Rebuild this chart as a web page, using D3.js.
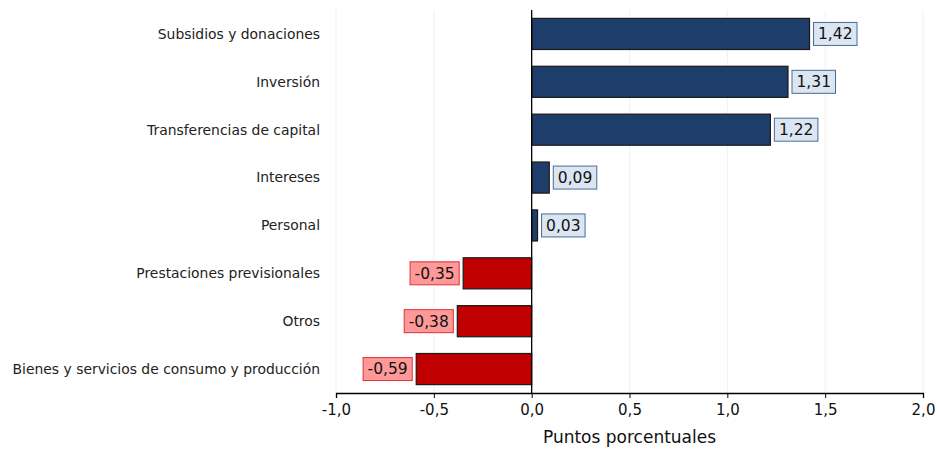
<!DOCTYPE html>
<html><head><meta charset="utf-8">
<script src="https://cdn.jsdelivr.net/npm/d3@7"></script>
<style>body{margin:0;background:#fff}svg{display:block}</style>
</head><body><svg id="c" width="937" height="449"></svg>
<script>
const categories = ["Subsidios y donaciones","Inversión","Transferencias de capital","Intereses ","Personal","Prestaciones previsionales","Otros","Bienes y servicios de consumo y producción"];
const values = [1.42,1.31,1.22,0.09,0.03,-0.35,-0.38,-0.59];
const xTicks = [-1.0,-0.5,0.0,0.5,1.0,1.5,2.0];
const xTitle = "Puntos porcentuales";

const svg = d3.select("#c");
const font = "'DejaVu Sans', sans-serif";
const x = d3.scaleLinear().domain([-1,2]).range([336,923]);
const y = d3.scaleBand().domain(categories).range([10,393]).paddingInner(0.35).paddingOuter(0.175);
const fmt = v => d3.format(".2f")(v).replace(".",",").replace("\u2212","-");
const fmt1 = v => d3.format(".1f")(v).replace(".",",").replace("\u2212","-");

// gridlines
svg.append("g").selectAll("line").data(xTicks.filter(t=>t!==0)).join("line")
  .attr("x1",d=>x(d)).attr("x2",d=>x(d)).attr("y1",10).attr("y2",393)
  .attr("stroke","#f1f1f1").attr("stroke-width",1);

// bars
svg.append("g").selectAll("rect").data(values).join("rect")
  .attr("x",d=>x(Math.min(0,d))).attr("width",d=>Math.abs(x(d)-x(0)))
  .attr("y",(d,i)=>y(categories[i])).attr("height",y.bandwidth())
  .attr("fill",d=>d>=0?"#1f3d6b":"#c00000")
  .attr("stroke","#1a1a1a").attr("stroke-width",1.2);

// zero line
svg.append("line").attr("x1",x(0)).attr("x2",x(0)).attr("y1",10).attr("y2",393)
  .attr("stroke","#000").attr("stroke-width",1.3);

// x axis
const ax = svg.append("g").attr("transform","translate(0,393)")
  .call(d3.axisBottom(x).tickValues(xTicks).tickFormat(fmt1).tickSize(5).tickPadding(6));
ax.select(".domain").attr("stroke","#000").attr("stroke-width",1.3);
ax.selectAll(".tick line").attr("stroke","#000");
ax.selectAll("text").attr("font-family",font).attr("font-size",15).attr("fill","#111");

svg.append("text").attr("x",(x(-1)+x(2))/2).attr("y",443).attr("text-anchor","middle")
  .attr("font-family",font).attr("font-size",17).attr("fill","#111").text(xTitle);

// category labels
svg.append("g").selectAll("text").data(categories).join("text")
  .attr("x",320).attr("y",d=>y(d)+y.bandwidth()/2).attr("dy","0.35em")
  .attr("text-anchor","end").attr("font-family",font).attr("font-size",13.9).attr("fill","#222")
  .text(d=>d);

// value labels
const lg = svg.append("g").selectAll("g").data(values).join("g");
lg.each(function(d,i){
  const g = d3.select(this);
  const cy = y(categories[i])+y.bandwidth()/2;
  const t = g.append("text").attr("font-family",font).attr("font-size",15.5).attr("fill","#111")
    .attr("dy","0.35em").attr("y",cy).text(fmt(d));
  const w = t.node().getComputedTextLength();
  const bw = w+9, bh = 23;
  const bx = d>=0 ? x(d)+4 : x(d)-4-bw;
  g.insert("rect","text").attr("x",bx).attr("y",cy-bh/2).attr("width",bw).attr("height",bh)
    .attr("fill",d>=0?"#dce6f2":"#ff9999").attr("stroke",d>=0?"#4a6a9a":"#e0302f").attr("stroke-width",1);
  t.attr("x",bx+4.5);
});
</script></body></html>
